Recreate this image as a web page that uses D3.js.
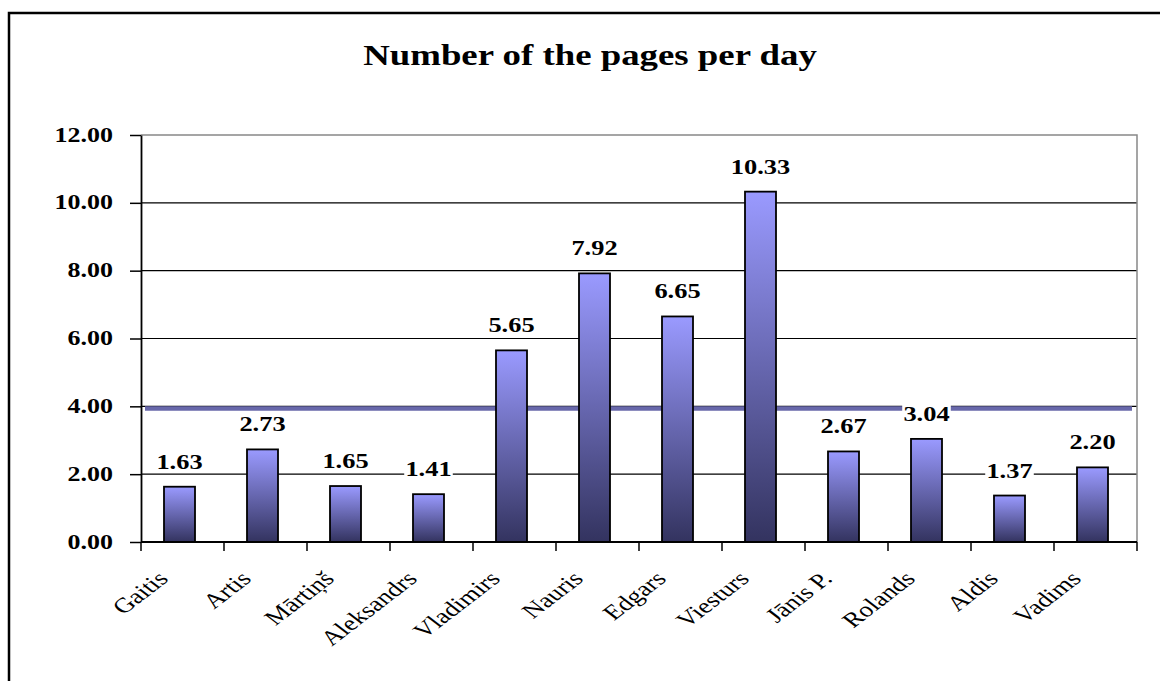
<!DOCTYPE html>
<html>
<head>
<meta charset="utf-8">
<script src="https://cdn.jsdelivr.net/npm/d3@7"></script>
<style>
  body { margin: 0; background: #fff; }
  svg { display: block; }
</style>
</head>
<body>
<svg id="chart" width="1160" height="681"></svg>
<script>
// Pages per day for each participant
const names = ["Gaitis", "Artis", "Mārtiņš", "Aleksandrs", "Vladimirs", "Nauris",
               "Edgars", "Viesturs", "Jānis P.", "Rolands", "Aldis", "Vadims"];
const pagesPerDay = [1.63, 2.73, 1.65, 1.41, 5.65, 7.92, 6.65, 10.33, 2.67, 3.04, 1.37, 2.20];
const yTicks = [0, 2, 4, 6, 8, 10, 12];
const titleText = "Number of the pages per day";

const data = names.map((n, i) => ({ name: n, value: pagesPerDay[i] }));
const average = d3.mean(pagesPerDay);

const serif = "'Liberation Serif', 'Times New Roman', serif";
const svg = d3.select("#chart");
const plot = { left: 141, right: 1137, top: 135, bottom: 542 };

const x = d3.scaleBand().domain(names).range([plot.left, plot.right]);
const y = d3.scaleLinear().domain([0, 12]).range([plot.bottom, plot.top]);
const bw = x.bandwidth();
const barW = 31;

// bar gradient: light periwinkle on top, dark navy at the base
const grad = svg.append("defs").append("linearGradient")
  .attr("id", "barFill").attr("x1", 0).attr("y1", 0).attr("x2", 0).attr("y2", 1);
grad.append("stop").attr("offset", "0%").attr("stop-color", "#9a9aff");
grad.append("stop").attr("offset", "100%").attr("stop-color", "#33335f");

// outer frame
svg.append("rect")
  .attr("x", 9).attr("y", 13).attr("width", 1200).attr("height", 720)
  .attr("fill", "#fff").attr("stroke", "#000").attr("stroke-width", 2.5);

// title
svg.append("text")
  .attr("transform", "translate(590,65) scale(1.27,1)")
  .attr("text-anchor", "middle")
  .style("font-family", serif).style("font-weight", "bold").style("font-size", "29px")
  .text(titleText);

// horizontal gridlines
svg.append("g").selectAll("line")
  .data(yTicks.filter(t => t > 0 && t < 12))
  .join("line")
  .attr("x1", plot.left).attr("x2", plot.right)
  .attr("y1", d => y(d)).attr("y2", d => y(d))
  .attr("stroke", "#000").attr("stroke-width", 1.2);

// plot area border (top and right)
svg.append("path")
  .attr("d", `M${plot.left},${y(12)}H${plot.right}V${y(0)}`)
  .attr("fill", "none").attr("stroke", "#888").attr("stroke-width", 1.5);

// average line
svg.append("line")
  .attr("x1", plot.left + 4).attr("x2", plot.right - 5)
  .attr("y1", y(average)).attr("y2", y(average))
  .attr("stroke", "#6868aa").attr("stroke-width", 4.5);

// bars
const barX = d => x(d.name) + (bw - barW) / 2 - 3;
svg.append("g").selectAll("rect")
  .data(data)
  .join("rect")
  .attr("x", barX)
  .attr("y", d => y(d.value))
  .attr("width", barW)
  .attr("height", d => y(0) - y(d.value))
  .attr("fill", "url(#barFill)")
  .attr("stroke", "#000").attr("stroke-width", 1.8);

// value labels on white boxes
const labels = svg.append("g").selectAll("g")
  .data(data)
  .join("g")
  .attr("transform", d => `translate(${barX(d) + barW / 2},${y(d.value) - 18}) scale(1.2,1)`);
labels.append("text")
  .attr("text-anchor", "middle")
  .style("font-family", serif).style("font-weight", "bold").style("font-size", "22px")
  .text(d => d.value.toFixed(2));
labels.each(function () {
  const g = d3.select(this);
  const b = g.select("text").node().getBBox();
  g.insert("rect", "text")
    .attr("x", b.x - 1).attr("y", b.y + 3)
    .attr("width", b.width + 2).attr("height", b.height - 4)
    .attr("fill", "#fff");
});

// y axis
const yAxis = svg.append("g")
  .attr("transform", `translate(${plot.left},0)`)
  .call(d3.axisLeft(y).tickValues(yTicks).tickSize(11).tickSizeOuter(0).tickFormat(d3.format(".2f")));
yAxis.select(".domain").attr("stroke", "#000").attr("stroke-width", 1.8);
yAxis.selectAll(".tick line").attr("stroke", "#000").attr("stroke-width", 1.5);
yAxis.selectAll(".tick text")
  .attr("x", null).attr("dy", null)
  .attr("transform", "translate(-28,6) scale(1.18,1)")
  .attr("fill", "#000")
  .style("font-family", serif).style("font-weight", "bold").style("font-size", "22px");

// x axis line and category boundary ticks
svg.append("line")
  .attr("x1", plot.left).attr("x2", plot.right)
  .attr("y1", y(0)).attr("y2", y(0))
  .attr("stroke", "#000").attr("stroke-width", 1.8);
svg.append("g").selectAll("line")
  .data(names.map(n => x(n)).concat([plot.right]))
  .join("line")
  .attr("x1", d => d).attr("x2", d => d)
  .attr("y1", y(0)).attr("y2", y(0) + 9)
  .attr("stroke", "#000").attr("stroke-width", 1.5);

// rotated category labels
svg.append("g").selectAll("text")
  .data(names)
  .join("text")
  .attr("transform", d => `translate(${x(d) + bw / 2 - 13},${y(0) + 38}) scale(1.3,1) rotate(-45)`)
  .attr("text-anchor", "end")
  .style("font-family", serif).style("font-size", "21px")
  .text(d => d);
</script>
</body>
</html>
